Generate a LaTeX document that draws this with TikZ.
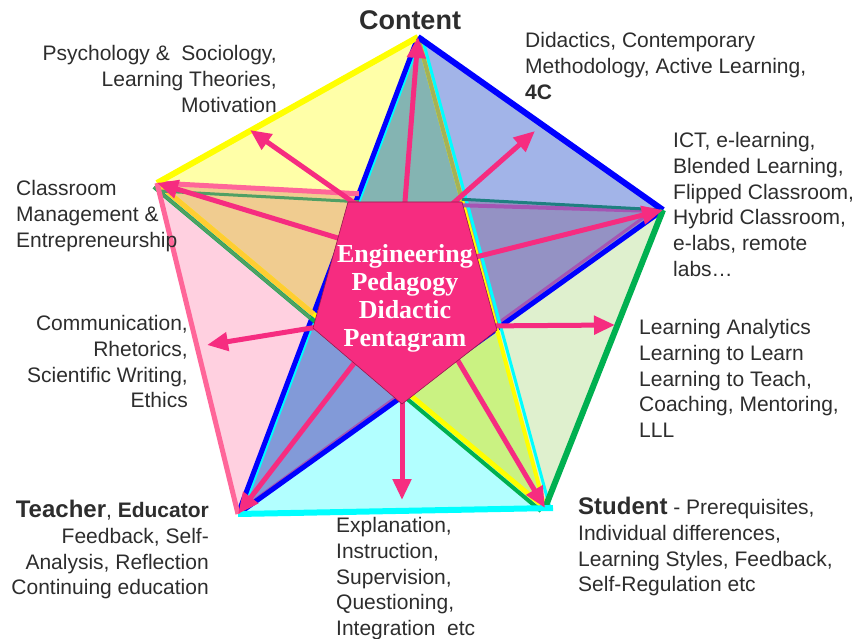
\documentclass[tikz,border=0pt]{standalone}
\usepackage{fontspec}
\setmainfont{Liberation Sans}
\newfontfamily\pentafont{Liberation Serif}
\usetikzlibrary{arrows.meta,calc,positioning}

\definecolor{textgray}{RGB}{45,45,45}
\definecolor{arrowpink}{RGB}{246,44,128}
\definecolor{edgeblue}{RGB}{0,0,255}
\definecolor{edgeyellow}{RGB}{255,255,0}
\definecolor{edgegreen}{RGB}{0,176,80}
\definecolor{edgecyan}{RGB}{0,255,255}
\definecolor{edgepink}{RGB}{255,102,153}
\definecolor{edgeteal}{RGB}{30,128,128}
\definecolor{edgepurple}{RGB}{165,85,180}
\definecolor{edgeolive}{RGB}{165,178,85}
\definecolor{edgeorange}{RGB}{255,205,50}
\definecolor{edgelgreen}{RGB}{80,160,100}
% region fills
\definecolor{fillY}{RGB}{255,255,168}
\definecolor{fillB}{RGB}{162,180,232}
\definecolor{fillG}{RGB}{223,240,206}
\definecolor{fillC}{RGB}{178,255,255}
\definecolor{fillP}{RGB}{255,208,224}
\definecolor{spikeC}{RGB}{132,180,178}
\definecolor{spikeR}{RGB}{148,146,196}
\definecolor{spikeS}{RGB}{202,242,130}
\definecolor{spikeT}{RGB}{130,154,216}
\definecolor{spikeL}{RGB}{240,204,144}

\begin{document}
\begin{tikzpicture}[x=1pt,y=-1pt,
    txt/.style={inner sep=0pt, text=textgray, font=\fontsize{21}{25.8}\selectfont},
    arrowline/.style={draw=arrowpink, line width=5pt, -{Triangle[length=21pt,width=18pt]}},
    edge/.style={line width=6pt}]
    \useasboundingbox (0,0) rectangle (859,639);

    % outer vertices
    \coordinate (C) at (418,37);
    \coordinate (R) at (663,210);
    \coordinate (S) at (545,508);
    \coordinate (T) at (238,514);
    \coordinate (L) at (157,183);
    % inner crossings
    \coordinate (P1) at (intersection of C--T and L--R);
    \coordinate (P2) at (intersection of C--S and L--R);
    \coordinate (P3) at (intersection of C--S and R--T);
    \coordinate (P4) at (intersection of R--T and L--S);
    \coordinate (P5) at (intersection of L--S and C--T);

    % fills
    \fill[fillY] (L) -- (C) -- (P1) -- cycle;
    \fill[fillB] (C) -- (R) -- (P2) -- cycle;
    \fill[fillG] (R) -- (S) -- (P3) -- cycle;
    \fill[fillC] (S) -- (T) -- (P4) -- cycle;
    \fill[fillP] (T) -- (L) -- (P5) -- cycle;
    \fill[spikeC] (C) -- (P2) -- (P3) -- (P4) -- (P5) -- (P1) -- cycle;
    \fill[spikeR] (R) -- (P3) -- (P2) -- cycle;
    \fill[spikeS] (S) -- (P4) -- (P3) -- cycle;
    \fill[spikeT] (T) -- (P5) -- (P4) -- cycle;
    \fill[spikeL] (L) -- (P1) -- (P5) -- cycle;

    % diagonals
    \draw[edgecyan, line width=3pt] ($(C)+(3,0)$) -- ($(T)+(4,-2)$);
    \draw[edgeblue, line width=5pt] (C) -- (T);
    \draw[edgepurple, line width=3pt] ($(R)+(-5,-3)$) -- ($(T)+(4,-5)$);
    \draw[edgeblue, line width=5pt] (R) -- (T);
    \draw[edgecyan, line width=3pt] ($(C)+(4,0)$) -- ($(S)+(5,0)$);
    \draw[edgeyellow, line width=4pt] (C) -- (S);
    \draw[edgeolive, line width=4pt] (C) -- (P2);
    \draw[edgeyellow, line width=5pt] (L) -- (S);
    \draw[edgeorange, line width=5pt] (L) -- (P5);
    \draw[edgegreen, line width=4pt] ($(L)+(-3,4)$) -- ($(S)+(-4,3)$);
    \draw[edgelgreen, line width=3pt] ($(L)+(-3,4)$) -- ($(P5)+(-3,4)$);
    \draw[edgelgreen, line width=3pt] ($(L)+(2,8)$) -- ($(P1)+(0,8)$);
    \draw[edgepink, line width=5pt] (L) -- (P1);
    \draw[edgepurple, line width=4pt] ($(P2)+(0,6)$) -- ($(R)+(-6,1)$);
    \draw[edgeteal, line width=3pt] (P2) -- (R);

    % outer edges
    \draw[edge, edgeyellow] (C) -- (L);
    \draw[edge, edgeblue] (C) -- (R);
    \draw[edge, edgegreen] (R) -- (S);
    \draw[edge, edgecyan] (T) -- ($(S)+(8,0)$);
    \draw[edgepink, line width=5pt] (T) -- (L);

    % arrows out of the pentagon
    \coordinate (tipCR) at (535,131);
    \coordinate (tipRS) at (615,325);
    \coordinate (tipST) at (402,500);
    \coordinate (tipTL) at (207,345);
    \coordinate (tipLC) at (250,130);
    \foreach \s/\e in {{(404,214)}/C, {(450,206)}/tipCR, {(460,261)}/R,
                       {(480,326)}/tipRS, {(454,354)}/S, {(402,390)}/tipST,
                       {(362,353)}/T, {(330,325)}/tipTL, {(351,242)}/L,
                       {(360,207)}/tipLC}
        \draw[arrowline] \s -- (\e);

    % centre pentagon
    \fill[arrowpink, draw=arrowpink!60!black, line width=0.6pt]
        (348,202) -- (462,202) -- (497,330) -- (402,404) -- (313,328) -- cycle;
    \node[align=center, text=white, inner sep=0pt, anchor=north,
          font=\pentafont\bfseries\fontsize{26}{28}\selectfont] (title) at (405,244)
        {Engineering\\Pedagogy\\Didactic\\Pentagram};

    % labels
    \node[anchor=base, inner sep=0pt, text=textgray,
          font=\bfseries\fontsize{27}{30}\selectfont] (content) at (410,30) {Content};
    \node[txt, anchor=north east, align=right] (psych) at (277,45)
        {Psychology \&~ Sociology,\\Learning Theories,\\Motivation};
    \node[txt, anchor=north west, align=left] (didactics) at (525,32)
        {Didactics, Contemporary\\Methodology, Active Learning,\\\textbf{4C}};
    \node[txt, anchor=north west, align=left] (ict) at (673,132)
        {ICT, e-learning,\\Blended Learning,\\Flipped Classroom,\\Hybrid Classroom,\\e-labs, remote\\labs…};
    \node[txt, anchor=north west, align=left] (classroom) at (16,180)
        {Classroom\\Management \&\\Entrepreneurship};
    \node[txt, anchor=north east, align=right] (communication) at (188,315)
        {Communication,\\Rhetorics,\\Scientific Writing,\\Ethics};
    \node[txt, anchor=north west, align=left] (analytics) at (639,319)
        {Learning Analytics\\Learning to Learn\\Learning to Teach,\\Coaching, Mentoring,\\LLL};
    \node[txt, anchor=north east, align=right] (teacher) at (209,500)
        {{\bfseries\fontsize{24}{26}\selectfont Teacher}, \textbf{Educator}\\Feedback, Self-\\Analysis, Reflection\\Continuing education};
    \node[txt, anchor=north west, align=left] (explanation) at (336,517)
        {Explanation,\\Instruction,\\Supervision,\\Questioning,\\Integration~ etc};
    \node[txt, anchor=north west, align=left] (student) at (578,497)
        {{\bfseries\fontsize{24}{26}\selectfont Student} - Prerequisites,\\Individual differences,\\Learning Styles, Feedback,\\Self-Regulation etc};
\end{tikzpicture}
\end{document}
